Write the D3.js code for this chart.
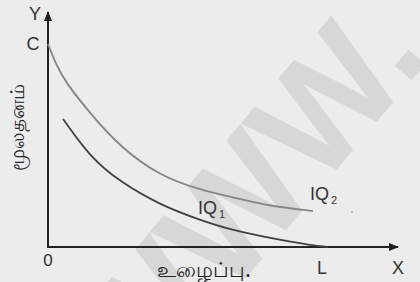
<!DOCTYPE html>
<html><head><meta charset="utf-8">
<script src="https://cdn.jsdelivr.net/npm/d3@7"></script>
<style>html,body{margin:0;padding:0;background:#ececec;}svg{display:block;}</style>
</head><body>
<script>
// Data (x: labour, y: capital, in 0..100 units)
const iq2X = [0, 2, 4.9, 12, 20.6, 32, 43.4, 54.9, 63.4, 75.7];
const iq2Y = [86.4, 78.7, 70.2, 57.0, 42.5, 30.2, 24.3, 20.4, 17.4, 15.3];
const iq1X = [4.3, 12, 20.6, 32, 43.4, 52, 63.4, 75.7, 80];
const iq1Y = [54.5, 38.3, 27.7, 17.9, 11.5, 7.4, 3.8, 0.6, 0];
const curveNames = ["IQ2", "IQ1"];
const cLevel = 86.4;   // C on capital axis
const lLevel = 80;     // L on labour axis
const yAxisTitle = "மூலதனம்";
const xAxisTitle = "உழைப்பு.";

const W = 420, H = 282;
const svg = d3.select("body").append("svg").attr("width", W).attr("height", H);
svg.append("rect").attr("width", W).attr("height", H).attr("fill", "#ececec");

const x = d3.scaleLinear().domain([0, 100]).range([48, 398]);
const y = d3.scaleLinear().domain([0, 100]).range([247, 12]);

// watermark
svg.append("text").attr("transform", "translate(432,56) rotate(-50)")
  .attr("text-anchor", "end")
  .attr("font-family", "Liberation Sans, Arial, sans-serif").attr("font-size", 150)
  .attr("font-weight", "bold").attr("fill", "#d7d7d7").text("WWW.");

const defs = svg.append("defs");
defs.append("marker").attr("id", "arr").attr("viewBox", "0 0 10 10").attr("refX", 9).attr("refY", 5)
  .attr("markerWidth", 5).attr("markerHeight", 5).attr("orient", "auto")
  .append("path").attr("d", "M0,1 L10,5 L0,9 Z").attr("fill", "#222");

// axes
svg.append("line").attr("x1", x(0)).attr("y1", y(0)).attr("x2", x(0)).attr("y2", y(100))
  .attr("stroke", "#222").attr("stroke-width", 2).attr("marker-end", "url(#arr)");
svg.append("line").attr("x1", x(0) - 1).attr("y1", y(0)).attr("x2", x(100)).attr("y2", y(0))
  .attr("stroke", "#222").attr("stroke-width", 2).attr("marker-end", "url(#arr)");

const line = d3.line().x(d => x(d[0])).y(d => y(d[1])).curve(d3.curveBasis);
svg.append("path").attr("d", line(d3.zip(iq2X, iq2Y))).attr("fill", "none")
  .attr("stroke", "#858585").attr("stroke-width", 1.8);
svg.append("path").attr("d", line(d3.zip(iq1X, iq1Y))).attr("fill", "none")
  .attr("stroke", "#404040").attr("stroke-width", 1.8);

const ff = "Liberation Sans, Arial, sans-serif";
function lab(tx, ty, s, size, anchor) {
  return svg.append("text").attr("x", tx).attr("y", ty).attr("font-family", ff)
    .attr("font-size", size).attr("fill", "#333").attr("text-anchor", anchor || "middle").text(s);
}
lab(x(0) - 13, 20, "Y", 18);
lab(x(0) - 15, y(cLevel) + 6, "C", 18);
lab(x(0), 266, "0", 17);
lab(x(lLevel) - 6, 274, "L", 18);
lab(x(100), 274, "X", 18);

function iqLabel(tx, ty, name) {
  const t = svg.append("text").attr("x", tx).attr("y", ty).attr("font-family", ff)
    .attr("font-size", 18).attr("fill", "#333");
  t.append("tspan").text(name.slice(0, 2));
  t.append("tspan").attr("font-size", 11).attr("dy", 4).attr("dx", 2).text(name.slice(2));
}
iqLabel(310, 200, curveNames[0]);
iqLabel(198, 214, curveNames[1]);

svg.append("circle").attr("cx", 352).attr("cy", 212).attr("r", 0.8).attr("fill", "#777");

svg.append("text").attr("transform", "translate(24,127) rotate(-90)")
  .attr("text-anchor", "middle").attr("font-family", "Noto Sans, sans-serif")
  .attr("font-size", 20).attr("fill", "#222").text(yAxisTitle);
svg.append("text").attr("x", 204).attr("y", 277)
  .attr("text-anchor", "middle").attr("font-family", "Noto Sans, sans-serif")
  .attr("font-size", 21).attr("fill", "#222").text(xAxisTitle);
</script>
</body></html>
